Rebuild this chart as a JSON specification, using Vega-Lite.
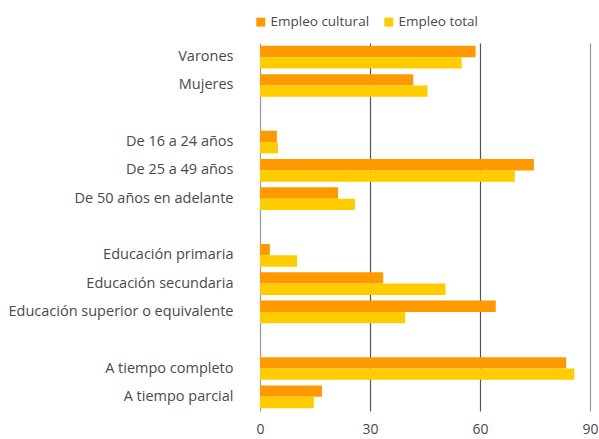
{
  "$schema": "https://vega.github.io/schema/vega-lite/v6.json",
  "autosize": {"type": "none"},
  "width": 330,
  "height": 368,
  "padding": {"left": 260, "top": 43, "right": 9, "bottom": 28},
  "config": {
    "view": {"stroke": null},
    "font": "Open Sans"
  },
  "data": {
    "values": [
      {"cat": "Varones", "serie": "Empleo cultural", "v": 58.8},
      {"cat": "Varones", "serie": "Empleo total", "v": 55.0},
      {"cat": "Mujeres", "serie": "Empleo cultural", "v": 41.8},
      {"cat": "Mujeres", "serie": "Empleo total", "v": 45.7},
      {"cat": "De 16 a 24 años", "serie": "Empleo cultural", "v": 4.6},
      {"cat": "De 16 a 24 años", "serie": "Empleo total", "v": 4.9},
      {"cat": "De 25 a 49 años", "serie": "Empleo cultural", "v": 74.7},
      {"cat": "De 25 a 49 años", "serie": "Empleo total", "v": 69.5},
      {"cat": "De 50 años en adelante", "serie": "Empleo cultural", "v": 21.3},
      {"cat": "De 50 años en adelante", "serie": "Empleo total", "v": 25.9},
      {"cat": "Educación primaria", "serie": "Empleo cultural", "v": 2.7},
      {"cat": "Educación primaria", "serie": "Empleo total", "v": 10.1},
      {"cat": "Educación secundaria", "serie": "Empleo cultural", "v": 33.6},
      {"cat": "Educación secundaria", "serie": "Empleo total", "v": 50.6},
      {"cat": "Educación superior o equivalente", "serie": "Empleo cultural", "v": 64.3},
      {"cat": "Educación superior o equivalente", "serie": "Empleo total", "v": 39.6},
      {"cat": "A tiempo completo", "serie": "Empleo cultural", "v": 83.5},
      {"cat": "A tiempo completo", "serie": "Empleo total", "v": 85.7},
      {"cat": "A tiempo parcial", "serie": "Empleo cultural", "v": 16.9},
      {"cat": "A tiempo parcial", "serie": "Empleo total", "v": 14.7}
    ]
  },
  "mark": {"type": "bar"},
  "encoding": {
    "y": {
      "field": "cat",
      "type": "nominal",
      "title": null,
      "scale": {
        "domain": ["Varones", "Mujeres", "gap1", "De 16 a 24 años", "De 25 a 49 años", "De 50 años en adelante", "gap2", "Educación primaria", "Educación secundaria", "Educación superior o equivalente", "gap3", "A tiempo completo", "A tiempo parcial"],
        "paddingInner": 0.2,
        "paddingOuter": 0.1
      },
      "axis": {
        "domain": false,
        "ticks": false,
        "labelPadding": 27,
        "labelFontSize": 14.5,
        "labelLimit": 0,
        "labelColor": "#4a4a4a",
        "labelExpr": "substring(datum.value, 0, 3) === 'gap' ? '' : datum.value"
      }
    },
    "yOffset": {"field": "serie", "type": "nominal", "sort": ["Empleo cultural", "Empleo total"]},
    "x": {
      "field": "v",
      "type": "quantitative",
      "title": null,
      "scale": {"domain": [0, 90], "nice": false},
      "axis": {
        "values": [0, 30, 60, 90],
        "domain": false,
        "ticks": false,
        "labelPadding": 11,
        "labelFontSize": 14,
        "labelColor": "#4a4a4a",
        "gridColor": {"condition": {"test": "datum.value === 0 || datum.value === 90", "value": "#999999"}, "value": "#555555"},
        "gridWidth": 1.2,
        "gridOpacity": 1,
        "labelFlush": false
      }
    },
    "color": {
      "field": "serie",
      "type": "nominal",
      "title": null,
      "scale": {"domain": ["Empleo cultural", "Empleo total"], "range": ["#FF9900", "#FFCC00"]},
      "legend": {
        "orient": "none",
        "legendX": -6,
        "legendY": -28,
        "direction": "horizontal",
        "symbolType": "square",
        "symbolSize": 80,
        "symbolStrokeWidth": 0,
        "labelFontSize": 13.5,
        "labelColor": "#4a4a4a",
        "columnPadding": 12,
        "labelOffset": 3
      }
    }
  }
}
